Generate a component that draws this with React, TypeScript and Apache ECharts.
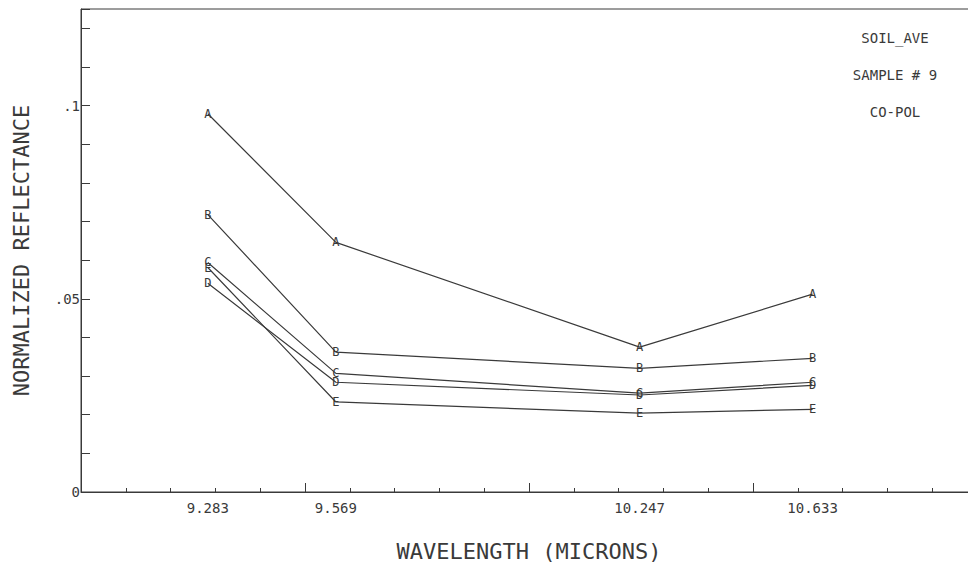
import React, { useEffect, useRef } from "react";
import * as echarts from "echarts";

const wavelengths = [9.283, 9.569, 10.247, 10.633];
const seriesNames = ["A", "B", "C", "D", "E"];
const seriesA = [0.0979, 0.0646, 0.0375, 0.0512];
const seriesB = [0.0718, 0.0362, 0.032, 0.0346];
const seriesC = [0.0594, 0.0307, 0.0256, 0.0284];
const seriesD = [0.054, 0.0284, 0.0251, 0.0276];
const seriesE = [0.0581, 0.0233, 0.0204, 0.0214];
const yLabelValues = [0, 0.05, 0.1];
const annotations = ["SOIL_AVE", "SAMPLE # 9", "CO-POL"];

const FONT = "'DejaVu Sans Mono', 'Liberation Mono', monospace";
const INK = "#3a3a3a";

export default function App() {
  const ref = useRef<HTMLDivElement>(null);
  useEffect(() => {
    document.body.style.margin = "0";
    if (!ref.current) return;
    const chart = echarts.init(ref.current, undefined, { renderer: "svg" });
    const all = [seriesA, seriesB, seriesC, seriesD, seriesE];
    chart.setOption({
      animation: false,
      backgroundColor: "#ffffff",
      grid: {
        left: 81,
        top: 9,
        width: 896,
        height: 483,
        containLabel: false,
        outerBoundsMode: "none",
        show: true,
        borderColor: INK,
        borderWidth: 1,
      },
      xAxis: [
        {
          type: "value",
          position: "bottom",
          min: 9,
          max: 11,
          interval: 0.5,
          name: "WAVELENGTH (MICRONS)",
          nameLocation: "middle",
          nameGap: 48,
          nameTextStyle: { fontFamily: FONT, fontSize: 22, color: INK },
          axisLine: { show: true, lineStyle: { color: INK, width: 1 } },
          axisTick: { show: true, inside: true, length: 9, lineStyle: { color: INK } },
          splitLine: { show: false },
          axisLabel: {
            customValues: wavelengths,
            formatter: (v: number) => v.toFixed(3),
            margin: 9,
            fontFamily: FONT,
            fontSize: 14,
            color: INK,
          },
        },
        {
          type: "value",
          position: "bottom",
          offset: 0,
          min: 9,
          max: 11,
          interval: 0.1,
          axisLine: { show: false },
          axisTick: { show: true, inside: true, length: 4, lineStyle: { color: INK } },
          splitLine: { show: false },
          axisLabel: { show: false },
        },
      ],
      yAxis: {
        type: "value",
        min: 0,
        max: 0.125,
        interval: 0.01,
        name: "NORMALIZED REFLECTANCE",
        nameLocation: "middle",
        nameGap: 49,
        nameTextStyle: { fontFamily: FONT, fontSize: 22, color: INK },
        axisLine: { show: true, lineStyle: { color: INK, width: 1 } },
        axisTick: { show: true, inside: true, length: 9, lineStyle: { color: INK } },
        splitLine: { show: false },
        axisLabel: {
          customValues: yLabelValues,
          formatter: (v: number) => (v === 0 ? "0" : String(v).replace(/^0/, "")),
          margin: 1,
          fontFamily: FONT,
          fontSize: 14,
          color: INK,
        },
      },
      graphic: annotations.map((t, i) => ({
        type: "text",
        x: 895,
        y: 38 + i * 37,
        style: {
          text: t,
          fontFamily: FONT,
          fontSize: 14,
          fill: INK,
          textAlign: "center",
          textVerticalAlign: "middle",
        },
      })),
      series: all.map((vals, i) => ({
        type: "line",
        name: seriesNames[i],
        xAxisIndex: 0,
        data: wavelengths.map((w, j) => [w, vals[j]]),
        symbol: "circle",
        symbolSize: 1,
        showSymbol: true,
        itemStyle: { color: "rgba(0,0,0,0)" },
        lineStyle: { color: INK, width: 1.2 },
        label: {
          show: true,
          position: "inside",
          formatter: seriesNames[i],
          fontFamily: FONT,
          fontSize: 12,
          color: INK,
        },
        labelLayout: { hideOverlap: false },
        z: 2,
      })),
    });
    return () => chart.dispose();
  }, []);
  return <div ref={ref} style={{ width: 968, height: 565 }} />;
}
